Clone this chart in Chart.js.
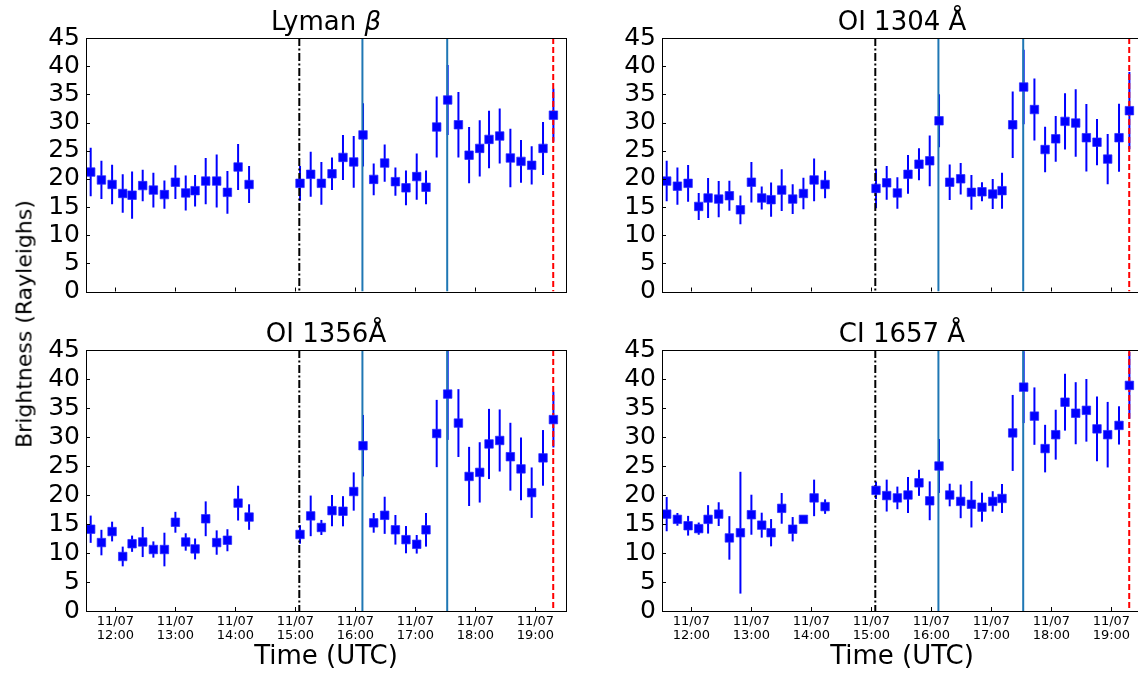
<!DOCTYPE html>
<html>
<head>
<meta charset="utf-8">
<script src="https://cdn.jsdelivr.net/npm/chart.js@4.4.0/dist/chart.umd.min.js"></script>
<style>
  html, body { margin: 0; padding: 0; background: #fff; overflow: hidden; }
  body { width: 1138px; height: 675px; position: relative; font-family: 'DejaVu Sans', sans-serif; }
  canvas { position: absolute; }
  #ylabel {
    position: absolute; left: 24px; top: 324px;
    transform: translate(-50%, -50%) rotate(-90deg);
    font-size: 22px; white-space: nowrap; color: #000;
  }
</style>
</head>
<body>
<canvas id="lyb" width="580" height="310" style="left:0;top:0"></canvas>
<canvas id="oi1304" width="580" height="310" style="left:576px;top:0"></canvas>
<canvas id="oi1356" width="580" height="363" style="left:0;top:312px"></canvas>
<canvas id="ci1657" width="580" height="363" style="left:576px;top:312px"></canvas>
<div id="ylabel">Brightness (Rayleighs)</div>

<script>
// observation times, decimal hours UTC on 11/07
const obsHours = [
  11.588, 11.767, 11.945, 12.122, 12.278, 12.455, 12.633, 12.817,
  13.0, 13.172, 13.328, 13.505, 13.688, 13.867, 14.045, 14.228,
  15.077, 15.255, 15.433, 15.61, 15.793, 15.972, 16.127, 16.305,
  16.488, 16.667, 16.843, 17.022, 17.177, 17.355, 17.538, 17.717,
  17.895, 18.072, 18.227, 18.405, 18.583, 18.76, 18.938, 19.127, 19.3
];

const lybVals = [21.2, 19.8, 19.0, 17.4, 17.1, 18.8, 18.0, 17.2, 19.4, 17.5, 17.9, 19.6, 19.6, 17.6, 22.1, 19.0,
  19.2, 20.8, 19.2, 20.9, 23.8, 23.0, 27.8, 19.9, 22.8, 19.5, 18.4, 20.4, 18.5, 29.2, 34.0, 29.6,
  24.2, 25.4, 27.0, 27.6, 23.7, 23.1, 22.4, 25.4, 31.3];
const lybErr = [4.3, 3.4, 3.5, 3.4, 4.2, 2.8, 3.1, 2.5, 3.0, 3.1, 2.8, 4.1, 4.7, 3.8, 4.1, 3.3,
  3.1, 4.0, 3.8, 2.9, 4.0, 4.6, 5.6, 2.8, 3.3, 2.5, 3.1, 4.1, 3.0, 5.4, 6.2, 5.8,
  5.0, 5.0, 5.1, 4.9, 5.2, 3.8, 3.4, 4.7, 4.7];

const oi1304Vals = [19.6, 18.7, 19.2, 15.1, 16.6, 16.4, 17.0, 14.5, 19.4, 16.6, 16.3, 18.0, 16.4, 17.4, 19.8, 19.0,
  18.3, 19.3, 17.5, 20.8, 22.6, 23.2, 30.3, 19.4, 20.0, 17.6, 17.7, 17.3, 17.9, 29.6, 36.3, 32.3,
  25.2, 27.1, 30.2, 29.9, 27.3, 26.5, 23.5, 27.3, 32.1];
const oi1304Err = [3.6, 3.3, 3.25, 2.4, 3.55, 3.2, 2.65, 2.55, 3.6, 2.05, 3.05, 3.7, 2.65, 2.8, 3.8, 2.45,
  3.5, 3.0, 2.8, 3.45, 2.85, 4.5, 4.7, 3.15, 2.8, 3.1, 1.7, 2.65, 3.2, 5.9, 6.6, 5.5,
  4.05, 4.05, 5.0, 6.0, 6.0, 4.1, 4.45, 6.05, 6.85];

const oi1356Vals = [14.1, 11.8, 13.7, 9.4, 11.6, 11.9, 10.6, 10.6, 15.3, 11.9, 10.7, 15.9, 11.8, 12.2, 18.6, 16.2,
  13.2, 16.4, 14.4, 17.3, 17.2, 20.6, 28.5, 15.2, 16.5, 14.0, 12.3, 11.5, 14.0, 30.6, 37.4, 32.4,
  23.2, 23.9, 28.8, 29.4, 26.6, 24.5, 20.4, 26.4, 33.0];
const oi1356Err = [2.35, 2.2, 1.7, 1.7, 1.4, 2.6, 1.4, 2.9, 1.8, 1.5, 1.8, 3.0, 2.1, 1.9, 3.0, 2.2,
  1.6, 3.5, 1.3, 2.7, 2.6, 3.3, 5.3, 1.7, 3.2, 2.55, 2.35, 1.6, 2.9, 5.8, 7.9, 5.85,
  5.1, 5.2, 6.05, 5.35, 5.85, 5.4, 4.35, 4.8, 4.8];

const ci1657Vals = [16.7, 15.8, 14.7, 14.2, 15.8, 16.7, 12.6, 13.5, 16.6, 14.8, 13.5, 17.7, 14.1, 15.8, 19.5, 18.0,
  20.8, 19.9, 19.5, 20.0, 22.1, 19.0, 25.0, 20.0, 18.9, 18.4, 17.9, 18.9, 19.4, 30.7, 38.6, 33.6,
  28.0, 30.4, 36.0, 34.1, 34.6, 31.4, 30.4, 32.0, 38.9];
const ci1657Err = [2.95, 1.1, 1.7, 1.05, 2.45, 2.05, 3.75, 10.5, 3.45, 2.15, 2.35, 2.65, 2.1, 0.5, 3.15, 1.25,
  1.5, 2.75, 1.95, 3.1, 2.25, 3.35, 4.65, 1.95, 2.9, 4.0, 2.5, 1.75, 2.5, 6.55, 6.2, 4.95,
  4.1, 4.3, 4.9, 5.35, 5.4, 5.6, 5.65, 3.3, 5.75];

// x ticks
const hourTicks = [12, 13, 14, 15, 16, 17, 18, 19];
const tickDates = ['11/07', '11/07', '11/07', '11/07', '11/07', '11/07', '11/07', '11/07'];
const tickTimes = ['12:00', '13:00', '14:00', '15:00', '16:00', '17:00', '18:00', '19:00'];

// event markers (decimal hours)
const onsetHour = 15.065;
const peakHours = [16.117, 17.53];
const endHour = 19.297;

const FONT = "'DejaVu Sans', sans-serif";

function vline(ctx, area, px, color, dash) {
  ctx.beginPath();
  ctx.strokeStyle = color;
  ctx.setLineDash(dash);
  ctx.moveTo(px, area.top);
  ctx.lineTo(px, area.bottom);
  ctx.stroke();
}

// error bars + event lines, drawn under the square markers
const errorBars = {
  id: 'errorBars',
  beforeDatasetsDraw(chart, args, opts) {
    const { ctx, chartArea, scales: { x, y } } = chart;
    ctx.save();
    ctx.beginPath();
    ctx.rect(chartArea.left, chartArea.top, chartArea.width, chartArea.height);
    ctx.clip();
    ctx.strokeStyle = '#0000ff';
    ctx.lineWidth = 2;
    chart.data.datasets[0].data.forEach((p, i) => {
      const px = x.getPixelForValue(p.x);
      ctx.beginPath();
      ctx.moveTo(px, y.getPixelForValue(p.y - opts.err[i]));
      ctx.lineTo(px, y.getPixelForValue(p.y + opts.err[i]));
      ctx.stroke();
    });

    ctx.lineWidth = 2;
    vline(ctx, chartArea, x.getPixelForValue(onsetHour), '#000', [8, 2.5, 2, 2.5]);
    peakHours.forEach(h => vline(ctx, chartArea, x.getPixelForValue(h), '#1f77b4', []));
    vline(ctx, chartArea, x.getPixelForValue(endHour), '#ff0000', [6, 3]);
    ctx.restore();
  }
};

// axes box with inward ticks, and the panel title
const frame = {
  id: 'frame',
  afterDraw(chart, args, opts) {
    const { ctx, chartArea: a, scales: { x, y } } = chart;
    ctx.save();
    ctx.strokeStyle = '#000';
    ctx.lineWidth = 1;
    ctx.setLineDash([]);
    ctx.strokeRect(Math.round(a.left) + 0.5, Math.round(a.top) + 0.5,
      Math.round(a.width), Math.round(a.height));
    ctx.beginPath();
    y.ticks.forEach(t => {
      const py = Math.round(y.getPixelForValue(t.value)) + 0.5;
      ctx.moveTo(a.left, py);
      ctx.lineTo(a.left + 4, py);
    });
    x.ticks.forEach(t => {
      const px = Math.round(x.getPixelForValue(t.value)) + 0.5;
      ctx.moveTo(px, a.bottom);
      ctx.lineTo(px, a.bottom - 4);
    });
    ctx.stroke();

    // title (parts so a glyph can be italic)
    ctx.fillStyle = '#000';
    ctx.textBaseline = 'alphabetic';
    const fonts = opts.parts.map(p => (p.italic ? 'italic ' : '') + '26px ' + FONT);
    const widths = opts.parts.map((p, i) => { ctx.font = fonts[i]; return ctx.measureText(p.text).width; });
    const total = widths.reduce((s, w) => s + w, 0);
    let tx = (a.left + a.right) / 2 - total / 2;
    opts.parts.forEach((p, i) => {
      ctx.font = fonts[i];
      ctx.fillText(p.text, tx, a.top - 8);
      tx += widths[i];
    });
    ctx.restore();
  }
};

function makePanel(id, titleParts, vals, errs, bottom) {
  const ctx = document.getElementById(id).getContext('2d');
  return new Chart(ctx, {
    type: 'scatter',
    data: {
      datasets: [{
        data: obsHours.map((h, i) => ({ x: h, y: vals[i] })),
        pointStyle: 'rect',
        pointRadius: 6,
        backgroundColor: '#0000ff',
        borderColor: 'rgba(40,40,255,0.7)',
        borderWidth: 1,
        showLine: false
      }]
    },
    options: {
      responsive: false,
      animation: false,
      layout: { padding: { top: 38, right: 14, left: 0, bottom: 0 } },
      plugins: {
        legend: { display: false },
        tooltip: { enabled: false },
        errorBars: { err: errs },
        frame: { parts: titleParts }
      },
      scales: {
        x: {
          type: 'linear',
          min: 11.51,
          max: 19.51,
          afterBuildTicks(scale) { scale.ticks = hourTicks.map(v => ({ value: v })); },
          afterFit(scale) { scale.height = bottom ? 64 : 12; },
          ticks: {
            display: bottom,
            autoSkip: false,
            maxRotation: 0,
            padding: 3,
            color: '#000',
            font: { family: FONT, size: 13, lineHeight: 1.1 },
            callback: (v, i) => [tickDates[i], tickTimes[i]]
          },
          grid: { display: false, drawTicks: false },
          border: { display: false },
          title: {
            display: bottom,
            text: 'Time (UTC)',
            color: '#000',
            font: { family: FONT, size: 26 },
            padding: { top: 0, bottom: 2 }
          }
        },
        y: {
          min: 0,
          max: 45,
          afterFit(scale) { scale.width = 86; },
          ticks: {
            stepSize: 5,
            autoSkip: false,
            padding: 6,
            color: '#000',
            font: { family: FONT, size: 25, lineHeight: 1 }
          },
          grid: { display: false, drawTicks: false },
          border: { display: false }
        }
      }
    },
    plugins: [errorBars, frame]
  });
}

makePanel('lyb', [{ text: 'Lyman ' }, { text: 'β', italic: true }], lybVals, lybErr, false);
makePanel('oi1304', [{ text: 'OI 1304 Å' }], oi1304Vals, oi1304Err, false);
makePanel('oi1356', [{ text: 'OI 1356Å' }], oi1356Vals, oi1356Err, true);
makePanel('ci1657', [{ text: 'CI 1657 Å' }], ci1657Vals, ci1657Err, true);
</script>
</body>
</html>
